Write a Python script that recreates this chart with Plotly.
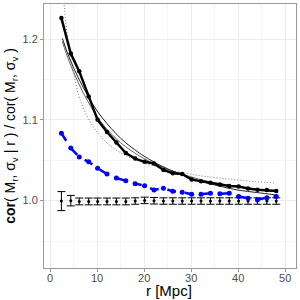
import plotly.graph_objects as go

# radial bins [Mpc]
r_bins = [2.4, 4.4, 6.2, 8.2, 10.1, 12.1, 14.1, 16.1, 18.1, 20.1, 22.1, 24.1,
          26.1, 28.1, 30.1, 32.1, 34.1, 36.1, 38.1, 40.1, 42.1, 44.1, 46.1, 48.1]

ratio_main = [1.226, 1.182, 1.160, 1.129, 1.100, 1.085, 1.072, 1.059, 1.052, 1.048,
              1.046, 1.038, 1.034, 1.033, 1.026, 1.024, 1.022, 1.020, 1.018, 1.0175,
              1.015, 1.0135, 1.013, 1.012]

ratio_blue = [1.0835, 1.065, 1.054, 1.048, 1.040, 1.033, 1.028, 1.0245, 1.021, 1.0185,
              1.0133, 1.0154, 1.0115, 1.0105, 1.008, 1.008, 1.0092, 1.0086, 1.0092, 1.005,
              1.003, 1.001, 1.0037, 1.005]

null_center = [0.9994, 1.0000, 0.9990, 0.9990, 0.9990, 0.9990, 0.9990, 0.9990, 0.9995, 1.0003,
               0.9998, 0.9995, 0.9995, 0.9995, 0.9995, 0.9995, 0.9995, 0.9995, 0.9995, 0.9995,
               0.9995, 0.9995, 0.9995, 0.9995]
null_err = [0.0118, 0.0065, 0.0042, 0.0042, 0.0042, 0.0042, 0.0042, 0.0042, 0.0040, 0.0040,
            0.0040, 0.0040, 0.0040, 0.0040, 0.0040, 0.0040, 0.0040, 0.0040, 0.0040, 0.0040,
            0.0040, 0.0040, 0.0040, 0.0040]

# fitted curves
r_fit = [2.6, 4, 6, 8, 10, 12, 14, 16, 18, 20, 24, 28, 32, 36, 40, 44, 48]
fit_a = [1.201, 1.178, 1.152, 1.130, 1.111, 1.096, 1.083, 1.072, 1.063, 1.055, 1.042,
         1.032, 1.024, 1.018, 1.013, 1.010, 1.007]
fit_b = [1.197, 1.173, 1.146, 1.123, 1.104, 1.089, 1.077, 1.067, 1.059, 1.052, 1.041,
         1.033, 1.026, 1.021, 1.017, 1.014, 1.011]

r_dot = [2.4, 3, 4, 5, 6, 7, 8, 9, 10, 12, 14, 16, 18, 20, 24, 28, 32, 36, 40, 44, 48]
fit_dot = [1.294, 1.242, 1.188, 1.158, 1.132, 1.116, 1.103, 1.093, 1.085, 1.072, 1.063,
           1.056, 1.051, 1.0465, 1.0397, 1.0347, 1.0308, 1.0279, 1.0254, 1.0234, 1.0217]

x_ticks = [0, 10, 20, 30, 40, 50]
y_ticks = [1.0, 1.1, 1.2]
y_tick_text = ["1.0", "1.1", "1.2"]

fig = go.Figure()

fig.add_trace(go.Scatter(x=r_dot, y=fit_dot, mode="lines", line_shape="spline",
                         line=dict(color="#777777", width=1, dash="1px,2px")))
fig.add_trace(go.Scatter(x=r_fit, y=fit_b, mode="lines", line_shape="spline",
                         line=dict(color="#666666", width=1)))
fig.add_trace(go.Scatter(x=r_fit, y=fit_a, mode="lines", line_shape="spline",
                         line=dict(color="#222222", width=1)))

fig.add_trace(go.Scatter(x=r_bins, y=null_center, mode="markers",
                         marker=dict(color="black", size=3),
                         error_y=dict(type="data", array=null_err, color="black",
                                      thickness=1, width=4)))

fig.add_trace(go.Scatter(x=r_bins, y=ratio_blue, mode="lines+markers",
                         line=dict(color="#0000ff", width=2.5, dash="dash"),
                         marker=dict(color="#0000ff", size=5)))

fig.add_trace(go.Scatter(x=r_bins, y=ratio_main, mode="lines+markers",
                         line=dict(color="black", width=2.5),
                         marker=dict(color="black", size=4.5)))

axis_common = dict(showline=True, linecolor="#999999", linewidth=1, mirror=True,
                   gridcolor="#ececec", gridwidth=1, ticks="outside", ticklen=3,
                   tickcolor="#999999", zeroline=False, automargin=False,
                   tickfont=dict(family="Liberation Sans, Arial", size=11, color="#4d4d4d"))

fig.update_xaxes(range=[-1.3, 52.3], tickvals=x_ticks, ticklabelstandoff=-3,
                 minor=dict(showgrid=True, gridcolor="#f6f6f6", gridwidth=1,
                            tickvals=[5, 15, 25, 35, 45]),
                 **axis_common)
fig.update_yaxes(range=[0.9166, 1.2434], tickvals=y_ticks, ticktext=y_tick_text,
                 minor=dict(showgrid=True, gridcolor="#f6f6f6", gridwidth=1,
                            tickvals=[0.95, 1.05, 1.15]),
                 title=dict(text="<b>cor</b>( M<sub>r</sub>, σ<sub>v</sub> | r ) / cor( M<sub>r</sub>, σ<sub>v</sub> )",
                            standoff=3,
                            font=dict(family="Liberation Sans, Arial", size=14, color="black")),
                 **axis_common)

fig.add_annotation(text="r [Mpc]", xref="paper", yref="paper", x=0.498, y=-0.1212,
                   xanchor="center", yanchor="bottom", showarrow=False, borderpad=0,
                   font=dict(family="Liberation Sans, Arial", size=15, color="black"))

fig.update_layout(width=300, height=300, showlegend=False,
                  margin=dict(l=44, r=4, t=4, b=32),
                  plot_bgcolor="white", paper_bgcolor="white")

fig.write_html("out.html", config={"displayModeBar": False},
               post_script="document.body.style.margin='0px';")
